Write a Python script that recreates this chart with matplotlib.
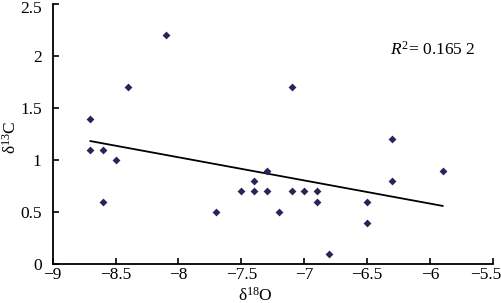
import numpy as np
import matplotlib
matplotlib.use("Agg")
import matplotlib.pyplot as plt
import matplotlib.transforms as mtransforms

plt.rcParams["font.family"] = ["Liberation Serif", "DejaVu Serif"]
plt.rcParams["mathtext.fontset"] = "custom"
plt.rcParams["mathtext.rm"] = "Liberation Serif"
plt.rcParams["mathtext.it"] = "Liberation Serif:italic"

d18o = [-8.7, -8.7, -8.6, -8.6, -8.5, -8.4, -8.1, -7.7, -7.5, -7.4, -7.4,
        -7.3, -7.3, -7.2, -7.1, -7.1, -7.0, -6.9, -6.9, -6.8, -6.5, -6.5,
        -6.3, -6.3, -5.9]
d13c = [1.4, 1.1, 1.1, 0.6, 1.0, 1.7, 2.2, 0.5, 0.7, 0.8, 0.7,
        0.9, 0.7, 0.5, 1.7, 0.7, 0.7, 0.7, 0.6, 0.1, 0.6, 0.4,
        1.2, 0.8, 0.9]
r2_label = "0.165 2"

fig = plt.figure(figsize=(5.02, 3.03), dpi=100)
ax = fig.add_axes([0.105, 0.128, 0.877, 0.858])

ax.scatter(d18o, d13c, marker="D", s=16, color="#262659", zorder=3,
           linewidths=0)

# linear trend through the points
x = np.array(d18o)
slope, intercept = np.polyfit(x, np.array(d13c), 1)
xs = np.array([x.min(), x.max()])
ax.plot(xs, slope * xs + intercept, color="black", linewidth=1.3)

ax.text(-6.32, 2.06, r"$\it{R}^{2}$= " + r2_label, fontsize=12.5, ha="left",
        va="center")

ax.set_xlim(-9, -5.5)
ax.set_ylim(0, 2.5)
ax.set_xticks([-9, -8.5, -8, -7.5, -7, -6.5, -6, -5.5])
ax.set_yticks([0, 0.5, 1, 1.5, 2, 2.5])
ax.set_xticklabels(["\u22129", "\u22128.5", "\u22128", "\u22127.5", "\u22127",
                    "\u22126.5", "\u22126", "\u22125.5"])
ax.set_yticklabels(["0", "0.5", "1", "1.5", "2", "2.5"])
ax.tick_params(direction="in", length=4, width=1.2, labelsize=12.5)
ax.tick_params(axis="x", pad=2)
ax.tick_params(axis="y", pad=8)

# nudge the edge labels so they stay inside the figure
last_x = ax.get_xticklabels()[-1]
last_x.set_transform(last_x.get_transform() + mtransforms.ScaledTranslation(
    -5 / 72, 0, fig.dpi_scale_trans))
top_y = ax.get_yticklabels()[-1]
top_y.set_transform(top_y.get_transform() + mtransforms.ScaledTranslation(
    0, -2 / 72, fig.dpi_scale_trans))

for side in ("top", "right"):
    ax.spines[side].set_visible(False)
for side in ("left", "bottom"):
    ax.spines[side].set_linewidth(1.3)

ax.set_xlabel("\u03b4$^{18}$O", fontsize=12.5)
ax.xaxis.set_label_coords(0.46, -0.085)
ax.set_ylabel("\u03b4$^{13}$C", fontsize=12.5)
ax.yaxis.set_label_coords(-0.075, 0.49)

fig.savefig("out.png", dpi=100)
